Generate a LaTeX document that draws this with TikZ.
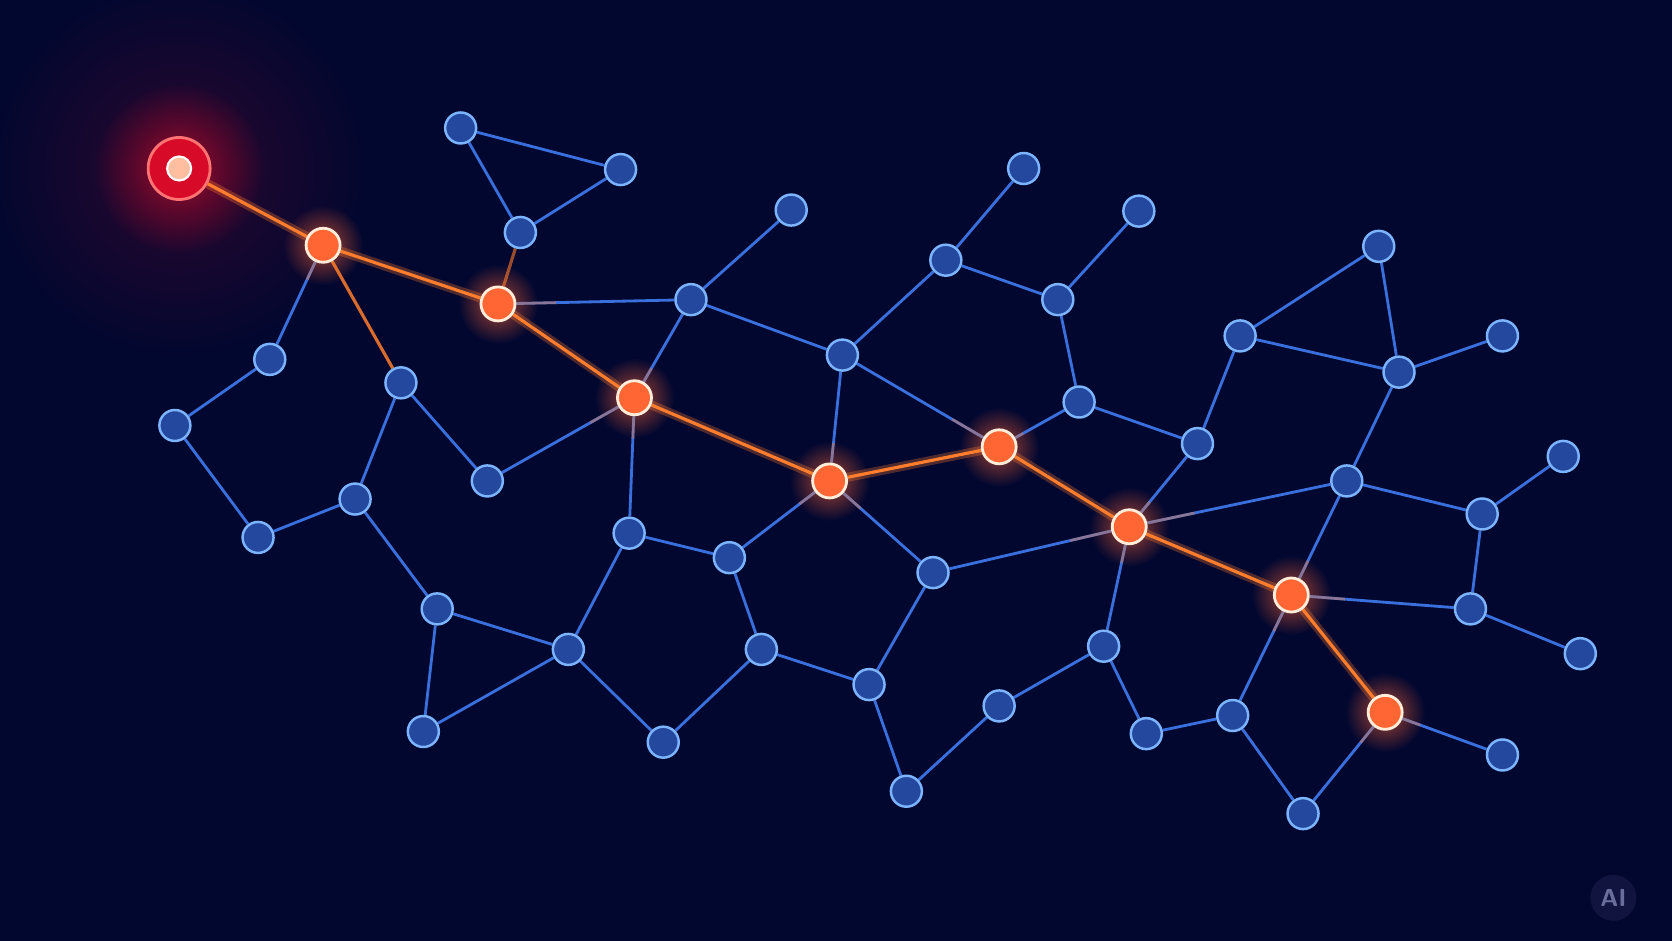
\documentclass[tikz,border=0pt]{standalone}
\usetikzlibrary{calc,backgrounds,fadings}
\definecolor{bgnavy}{RGB}{2,7,48}
\definecolor{edgeblue}{RGB}{58,112,222}
\definecolor{nodeblue}{RGB}{36,72,158}
\definecolor{rimblue}{RGB}{125,180,255}
\definecolor{hotorange}{RGB}{255,102,52}
\definecolor{hotedge}{RGB}{255,125,45}
\definecolor{srcred}{RGB}{215,10,40}
\definecolor{srccore}{RGB}{255,190,160}
\definecolor{markbg}{RGB}{16,20,62}
\definecolor{markgray}{RGB}{105,110,155}
\tikzfading[name=glowfade, inner color=transparent!35, outer color=transparent!100]
\tikzset{
  dot/.style={circle, fill=nodeblue, draw=rimblue, line width=0.7pt, minimum size=0.31cm, inner sep=0pt},
  hot/.style={circle, fill=hotorange, draw=white!85!orange, line width=0.8pt, minimum size=0.34cm, inner sep=0pt},
  link/.style={edgeblue, line width=0.8pt},
  hotlink/.style={hotedge, line width=0.9pt},
  tail/.style={hotedge, line width=0.8pt, opacity=0.4},
}
\begin{document}
\begin{tikzpicture}[x=0.010663cm, y=-0.010663cm]
        \useasboundingbox (0,0) rectangle (1568,882);
        % source node
        \node[circle, fill=srcred, draw=red!55!white, line width=0.8pt, minimum size=0.62cm, inner sep=0pt] (src) at (168,158) {};
        \node[circle, fill=srccore, draw=white, line width=0.6pt, minimum size=0.24cm, inner sep=0pt] (core) at (src) {};
        % hot path
        \node[hot] (h1) at (303,230) {};
        \node[hot] (h2) at (467,285) {};
        \node[hot] (h3) at (595,373) {};
        \node[hot] (h4) at (778,451) {};
        \node[hot] (h5) at (937,419) {};
        \node[hot] (h6) at (1059,494) {};
        \node[hot] (h7) at (1211,558) {};
        \node[hot] (h8) at (1299,668) {};
        % plain nodes
        \node[dot] (n1) at (432,120) {};
        \node[dot] (n2) at (582,159) {};
        \node[dot] (n3) at (488,218) {};
        \node[dot] (n4) at (742,197) {};
        \node[dot] (n5) at (648,281) {};
        \node[dot] (n6) at (253,337) {};
        \node[dot] (n7) at (164,399) {};
        \node[dot] (n8) at (376,359) {};
        \node[dot] (n9) at (457,451) {};
        \node[dot] (n10) at (333,468) {};
        \node[dot] (n11) at (242,504) {};
        \node[dot] (n12) at (410,571) {};
        \node[dot] (n13) at (397,686) {};
        \node[dot] (n14) at (533,609) {};
        \node[dot] (n15) at (590,500) {};
        \node[dot] (n16) at (684,523) {};
        \node[dot] (n17) at (622,696) {};
        \node[dot] (n18) at (714,609) {};
        \node[dot] (n19) at (815,642) {};
        \node[dot] (n20) at (850,742) {};
        \node[dot] (n21) at (875,537) {};
        \node[dot] (n22) at (790,333) {};
        \node[dot] (n23) at (887,244) {};
        \node[dot] (n24) at (960,158) {};
        \node[dot] (n25) at (992,281) {};
        \node[dot] (n26) at (1068,198) {};
        \node[dot] (n27) at (1012,377) {};
        \node[dot] (n28) at (1123,416) {};
        \node[dot] (n29) at (1163,315) {};
        \node[dot] (n30) at (1293,231) {};
        \node[dot] (n31) at (1312,349) {};
        \node[dot] (n32) at (1409,315) {};
        \node[dot] (n33) at (1263,451) {};
        \node[dot] (n34) at (1390,482) {};
        \node[dot] (n35) at (1466,428) {};
        \node[dot] (n36) at (1379,571) {};
        \node[dot] (n37) at (1482,613) {};
        \node[dot] (n38) at (1035,606) {};
        \node[dot] (n39) at (937,662) {};
        \node[dot] (n40) at (1075,688) {};
        \node[dot] (n41) at (1156,671) {};
        \node[dot] (n42) at (1222,763) {};
        \node[dot] (n43) at (1409,708) {};
        % watermark
        \node[circle, fill=markbg, minimum size=0.46cm, inner sep=0pt, text=markgray, font=\sffamily\bfseries\fontsize{7}{8}\selectfont] (mark) at (1513,842) {AI};
        \begin{scope}[on background layer]
            \fill[bgnavy] (0,0) rectangle (1568,882);
            \clip (0,0) rectangle (1568,882);
            % glows
            \fill[srcred, opacity=0.3, path fading=glowfade] (src) circle (1.9cm);
            \fill[srcred, path fading=glowfade] (src) circle (0.85cm);
            \foreach \h in {h1,h2,h3,h4,h5,h6,h7,h8}
                \fill[hotorange, path fading=glowfade] (\h) circle (0.4cm);
            % links
            \draw[link] (n1) -- (n2) -- (n3) -- (n1);
            \draw[link] (h2) -- (n5) -- (n4) (n5) -- (h3) (n5) -- (n22);
            \draw[link] (h1) -- (n6) -- (n7) -- (n11) -- (n10) -- (n8) -- (n9) -- (h3);
            \draw[link] (n10) -- (n12) -- (n13) -- (n14) -- (n12);
            \draw[link] (n14) -- (n15) -- (h3) (n14) -- (n17) -- (n18) -- (n16) -- (n15);
            \draw[link] (n16) -- (h4) (n18) -- (n19) -- (n20) (n19) -- (n21) -- (h4) (n21) -- (h6);
            \draw[link] (h4) -- (n22) -- (h5) (n22) -- (n23) -- (n24) (n23) -- (n25) -- (n26);
            \draw[link] (n25) -- (n27) -- (h5) (n27) -- (n28) -- (h6) (n28) -- (n29) -- (n30) -- (n31) -- (n29);
            \draw[link] (n31) -- (n32) (n31) -- (n33) -- (h6) (n33) -- (h7) (n33) -- (n34) -- (n35);
            \draw[link] (n34) -- (n36) -- (h7) (n36) -- (n37);
            \draw[link] (h6) -- (n38) -- (n39) -- (n20) (n38) -- (n40) -- (n41) -- (h7) (n41) -- (n42) -- (h8) -- (n43);
            % warm tails near hot nodes
            \foreach \a/\b in {h1/n6,h2/n5,h3/n5,h3/n9,h3/n15,h4/n16,h4/n21,h4/n22,h5/n22,h5/n27,h6/n28,h6/n21,h6/n33,h6/n38,h7/n33,h7/n36,h7/n41,h8/n42,h8/n43}
                \draw[tail] (\a) -- ($(\a)!0.3!(\b)$);
            % hot links
            \draw[hotedge, opacity=0.3, line width=2.6pt] (src) -- (h1) -- (h2) -- (h3) -- (h4) -- (h5) -- (h6) -- (h7) -- (h8);
            \draw[hotlink] (src) -- (h1) -- (h2) -- (h3) -- (h4) -- (h5) -- (h6) -- (h7) -- (h8);
            \draw[hotlink, opacity=0.85] (h1) -- (n8);
            \draw[hotlink, opacity=0.6] (h2) -- (n3);
        \end{scope}
    \end{tikzpicture}
\end{document}
